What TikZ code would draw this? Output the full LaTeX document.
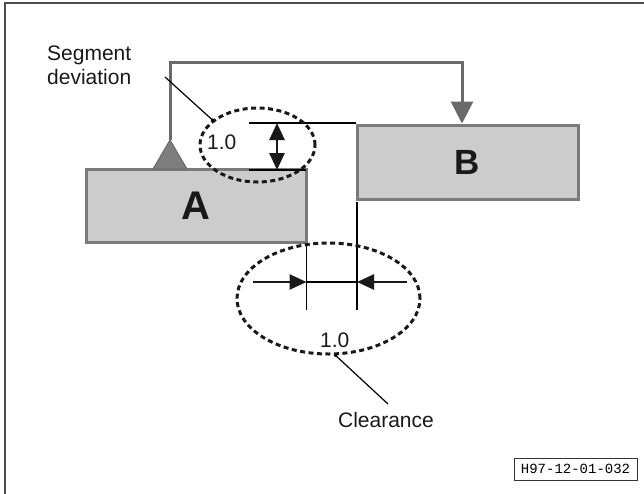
\documentclass[tikz,border=0pt]{standalone}
\usepackage{fontspec}
\setmainfont{Liberation Sans}
\newfontfamily\labelfont{Liberation Mono}
\usetikzlibrary{arrows.meta,shapes.geometric}
\definecolor{boxfill}{HTML}{CCCCCC}
\definecolor{boxline}{HTML}{7A7A7A}
\definecolor{flowcol}{HTML}{6A6A6A}
\definecolor{tricol}{HTML}{7E7E7E}
\begin{document}
\begin{tikzpicture}[x=1pt,y=-1pt,
  blk/.style={draw=boxline, fill=boxfill, line width=3pt, inner sep=0pt, text=black!90},
  ring/.style={ellipse, draw=black!90, line width=3pt, dash pattern=on 5pt off 3.5pt, inner sep=0pt},
  thin/.style={draw=black, line width=1.2pt},
  dimarrow/.style={draw=black!90, line width=2.6pt, -{Triangle[length=17pt,width=15pt]}},
  leader/.style={draw=black, line width=1.2pt},
  lbl/.style={font=\fontsize{21}{24}\selectfont, inner sep=0pt, text=black!90}
]
\useasboundingbox (0,0) rectangle (644,493);
\begin{scope}
  \clip (0,0) rectangle (644,493);
  \draw[line width=2pt, draw=black!70] (4.5,2.5) rectangle (660,510);
\end{scope}

% boxes
\node[blk, minimum width=220pt, minimum height=73pt, font=\bfseries\fontsize{40}{40}\selectfont] (A) at (196,205.5) {A};
\node[blk, minimum width=221pt, minimum height=74pt, font=\bfseries\fontsize{35}{35}\selectfont] (B) at (467.5,162) {B};

% triangle on A
\coordinate (apex) at (170,140);
\coordinate (tl) at (153,169);
\coordinate (tr) at (187,169);
\draw[fill=tricol, draw=flowcol, line width=1pt, line join=round] (tl) -- (apex) -- (tr) -- cycle;

% feedback connector
\coordinate (fa) at (170,62);
\coordinate (fb) at (462,62);
\draw[draw=flowcol, line width=3pt, -{Triangle[length=22pt,width=22pt]}] (apex) -- (fa) -- (fb) -- (fb |- B.north);

% segment deviation dimension
\coordinate (d1) at (249,123);
\coordinate (d2) at (356,123);
\coordinate (d3) at (249,170);
\coordinate (d4) at (306,170);
\draw[thin] (d1) -- (d2);
\draw[thin] (d3) -- (d4);
\coordinate (va) at (277,123);
\coordinate (vb) at (277,170);
\draw[draw=black!90, line width=2.6pt, {Triangle[length=17pt,width=15pt]}-{Triangle[length=17pt,width=15pt]}] (va) -- (vb);

% clearance dimension
\coordinate (ea) at (306.5,245);
\coordinate (eb) at (306.5,310);
\coordinate (ec) at (357,202);
\coordinate (ed) at (357,310);
\draw[thin] (ea) -- (eb);
\draw[thin] (ec) -- (ed);
\coordinate (hl) at (253,282);
\coordinate (hm1) at (306.5,282);
\coordinate (hm2) at (357,282);
\coordinate (hr) at (407,282);
\draw[dimarrow] (hl) -- (hm1);
\draw[dimarrow] (hr) -- (hm2);
\draw[thin, line width=1.6pt] (hm1) -- (hm2);

% dashed rings
\node[ring, minimum width=115pt, minimum height=74pt] (e1) at (257.5,145) {};
\node[ring, minimum width=183pt, minimum height=111pt] (e2) at (328.5,298.5) {};

% labels
\node[lbl, anchor=base west] (s1) at (47,60) {Segment};
\node[lbl, anchor=base west] (s2) at (47,84) {deviation};
\coordinate (sl) at (165,77);
\draw[leader] (sl) -- (e1.151);
\fill[black] (e1.151) circle (1.8pt);

\node[lbl, anchor=base west] (v1) at (207,149) {1.0};
\node[lbl, anchor=base west] (v2) at (320,347) {1.0};

\node[lbl, anchor=base] (cl) at (386,427) {Clearance};
\coordinate (cla) at (388,404);
\draw[leader] (e2.-83) -- (cla);
\fill[black] (e2.-83) circle (1.8pt);

% reference code
\node[draw=black!80, line width=1pt, minimum width=123pt, minimum height=22pt, inner sep=0pt,
      font=\labelfont\fontsize{14}{14}\selectfont] (code) at (575.5,469) {H97-12-01-032};
\end{tikzpicture}
\end{document}
